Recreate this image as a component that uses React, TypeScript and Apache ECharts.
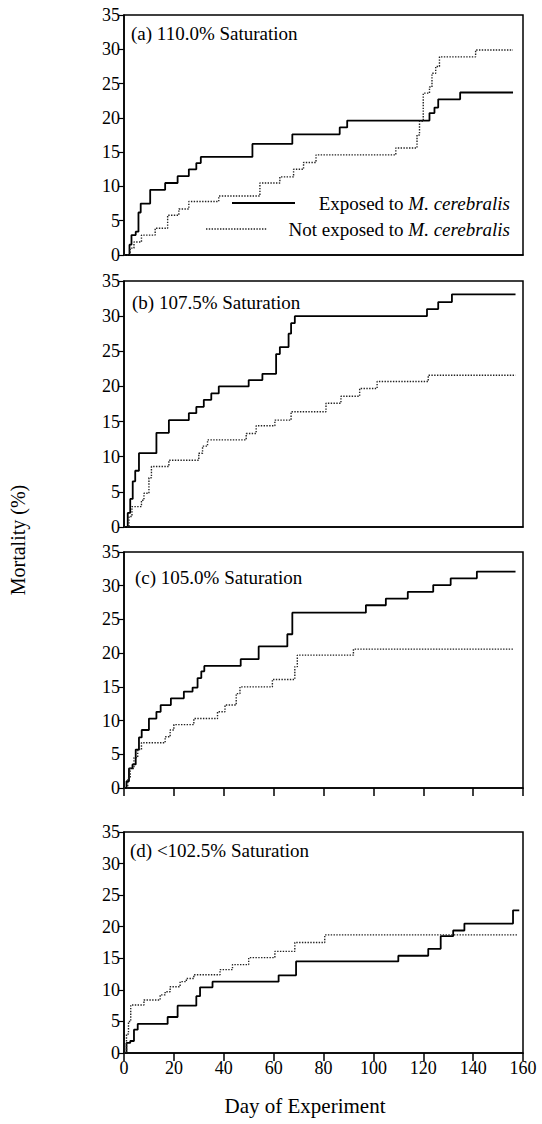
import React, { useEffect, useRef } from "react";
import * as echarts from "echarts";

// ---------- data (day, cumulative mortality %) ----------
const xTicks = [0, 20, 40, 60, 80, 100, 120, 140, 160];
const yTicks = [0, 5, 10, 15, 20, 25, 30, 35];

const panelTitles = [
  "(a) 110.0% Saturation",
  "(b) 107.5% Saturation",
  "(c) 105.0% Saturation",
  "(d) <102.5% Saturation",
];

const seriesNames = ["Exposed to M. cerebralis", "Not exposed to M. cerebralis"];

const aExposed: [number, number][] = [
  [0, 0], [1, 0], [2.2, 1.5], [3, 2.9], [4.7, 3.4], [5.8, 6.2], [6.7, 7.5], [10.5, 9.5],
  [16.5, 10.5], [21.5, 11.5], [26, 12.5], [29, 13.4], [30.8, 14.3], [51.5, 16.2],
  [67.5, 17.6], [86.5, 18.6], [89.5, 19.6], [122.5, 20.7], [124.5, 21.5], [126, 22.7],
  [134.8, 23.7], [156, 23.7],
];
const aNotExposed: [number, number][] = [
  [0, 0], [1.5, 0], [2.5, 1], [4, 1.9], [7, 2.9], [12.5, 3.9], [17.5, 5.8], [22, 6.7],
  [26, 7.8], [38, 8.6], [54.5, 10.5], [62.5, 11.4], [68, 12.5], [72, 13.5], [77, 14.6],
  [109, 15.6], [117.5, 17.5], [118.5, 19.5], [120, 23.6], [122.5, 24.5], [123.5, 26.5],
  [125, 27.5], [126.5, 28.9], [141, 29.9], [156, 29.9],
];
const bExposed: [number, number][] = [
  [0, 0], [0.5, 0], [1.5, 2], [2.5, 4], [3.5, 6.5], [4.5, 8], [6, 10.5], [13, 13.4],
  [18, 15.2], [26, 16.2], [29, 17.1], [32, 18.1], [35, 19], [38, 20], [50, 20.9],
  [55.5, 21.8], [61, 24.6], [62.5, 25.6], [66, 27.5], [67, 29], [68.5, 30], [121.5, 31],
  [126, 32], [131.5, 33.1], [157, 33.1],
];
const bNotExposed: [number, number][] = [
  [0, 0], [1.2, 0], [2, 1.5], [3.2, 2.9], [7, 3.8], [8, 4.8], [10, 7], [11, 8.6],
  [18, 9.5], [30, 10.5], [31.5, 11.5], [33.5, 12.4], [49, 13.3], [53, 14.4], [60.5, 15.2],
  [67, 16.4], [81, 17.6], [87, 18.6], [94.5, 19.7], [101.5, 20.7], [122, 21.6], [157, 21.6],
];
const cExposed: [number, number][] = [
  [0, 0], [0.3, 0], [1, 1], [2, 2.9], [3.4, 3.5], [4.7, 5.7], [6, 7.5], [7.1, 8.6],
  [10, 10.3], [13, 11.3], [14.7, 12.3], [18.8, 13.3], [24, 14.3], [27.5, 14.9],
  [29.5, 16.3], [31, 17.3], [32.2, 18.1], [46.8, 19.1], [54, 21], [65.5, 22.8],
  [67.5, 26], [97, 27.1], [105, 28.1], [113.8, 29.1], [124, 30.1], [131, 31.1],
  [141.5, 32.1], [157, 32.1],
];
const cNotExposed: [number, number][] = [
  [0, 0], [0.3, 0], [1.5, 1.5], [2.5, 2.9], [4, 4.5], [5.5, 5.7], [7, 6.7], [16.5, 7.6],
  [18.5, 8.6], [20, 9.4], [28, 10.3], [37.5, 11.3], [40.5, 12.3], [45, 14], [46.5, 15],
  [59.5, 16.1], [68.5, 18], [69.5, 19.7], [92, 20.6], [156, 20.6],
];
const dExposed: [number, number][] = [
  [0, 0], [0.5, 0], [1, 1.6], [2.5, 1.9], [4, 3.7], [5.5, 4.6], [17.5, 5.7], [21.5, 7.5],
  [29, 9], [30.5, 10.4], [35.5, 11.3], [62, 12.3], [69, 14.5], [110, 15.4], [122, 16.5],
  [127, 18.5], [132, 19.4], [136.5, 20.5], [156, 22.6], [158.5, 22.6],
];
const dNotExposed: [number, number][] = [
  [0, 0], [0.3, 0], [1, 3], [1.8, 5], [2.7, 7.6], [8, 8.4], [14.5, 9.2], [16.5, 9.7],
  [18.5, 10.5], [22.5, 11.3], [25, 11.8], [28, 12.4], [38.5, 13.2], [43.5, 14], [50, 15.1],
  [60.5, 16.1], [68.5, 17.5], [80.5, 18.7], [158, 18.7],
];

const panelData = [
  [aExposed, aNotExposed],
  [bExposed, bNotExposed],
  [cExposed, cNotExposed],
  [dExposed, dNotExposed],
];

// ---------- layout ----------
const FONT = "Liberation Serif";
const GRID_LEFT = 124;
const GRID_RIGHT = 19;
const panelTops = [15, 281, 552, 832];
const panelHeights = [240, 246, 236, 221];
const titlePos = [
  [131, 33],
  [132, 302],
  [135, 577],
  [130, 850],
];

export default function App() {
  const ref = useRef<HTMLDivElement>(null);

  useEffect(() => {
    if (!ref.current) return;
    const chart = echarts.init(ref.current, undefined, { renderer: "svg" });

    const grids = panelTops.map((top, i) => ({
      left: GRID_LEFT,
      right: GRID_RIGHT,
      top,
      height: panelHeights[i],
      show: true,
      borderColor: "#000",
      borderWidth: 1.5,
      backgroundColor: "transparent",
    }));

    const xAxes = panelTops.map((_, i) => ({
      type: "value",
      gridIndex: i,
      min: xTicks[0],
      max: xTicks[xTicks.length - 1],
      interval: 20,
      axisLine: { show: true, lineStyle: { color: "#000", width: 1.5 } },
      axisTick: { show: i >= 2, length: 8, lineStyle: { color: "#000", width: 1.5 } },
      axisLabel: {
        show: i === 3,
        color: "#000",
        fontFamily: FONT,
        fontSize: 18,
        margin: 6,
      },
      splitLine: { show: false },
    }));

    const yAxes = panelTops.map((_, i) => ({
      type: "value",
      gridIndex: i,
      min: yTicks[0],
      max: yTicks[yTicks.length - 1],
      interval: 5,
      axisLine: { show: true, lineStyle: { color: "#000", width: 1.5 } },
      axisTick: { show: true, length: 5, lineStyle: { color: "#000", width: 1.2 } },
      axisLabel: { color: "#000", fontFamily: FONT, fontSize: 18, margin: 4 },
      splitLine: { show: false },
    }));

    const series: any[] = [];
    panelData.forEach((pair, i) => {
      series.push({
        name: seriesNames[0],
        type: "line",
        xAxisIndex: i,
        yAxisIndex: i,
        step: "end",
        symbol: "none",
        data: pair[0],
        lineStyle: { color: "#000", width: 1.8, type: "solid" },
      });
      series.push({
        name: seriesNames[1],
        type: "line",
        xAxisIndex: i,
        yAxisIndex: i,
        step: "end",
        symbol: "none",
        data: pair[1],
        lineStyle: { color: "#222", width: 1.4, type: [1.4, 1.4] },
      });
    });

    const rich = {
      n: { fontFamily: FONT, fontSize: 19, color: "#000" },
      i: { fontFamily: FONT, fontSize: 19, fontStyle: "italic", color: "#000" },
    };

    const graphic: any[] = [
      ...panelTitles.map((t, i) => ({
        type: "text",
        x: titlePos[i][0],
        y: titlePos[i][1],
        style: {
          text: t,
          fontFamily: FONT,
          fontSize: 19,
          fill: "#000",
          align: "left",
          verticalAlign: "middle",
        },
      })),
      // legend (panel a)
      {
        type: "line",
        shape: { x1: 232, y1: 203, x2: 295, y2: 203 },
        style: { stroke: "#000", lineWidth: 1.8 },
      },
      {
        type: "line",
        shape: { x1: 206, y1: 229, x2: 267, y2: 229 },
        style: { stroke: "#222", lineWidth: 1.4, lineDash: [1.4, 1.4] },
      },
      {
        type: "text",
        x: 510,
        y: 203,
        style: {
          text: "{n|Exposed to }{i|M. cerebralis}",
          rich,
          align: "right",
          verticalAlign: "middle",
        },
      },
      {
        type: "text",
        x: 510,
        y: 229,
        style: {
          text: "{n|Not exposed to }{i|M. cerebralis}",
          rich,
          align: "right",
          verticalAlign: "middle",
        },
      },
      // axis names
      {
        type: "text",
        x: 18,
        y: 540,
        rotation: Math.PI / 2,
        style: {
          text: "Mortality (%)",
          fontFamily: FONT,
          fontSize: 20,
          fill: "#000",
          align: "center",
          verticalAlign: "middle",
        },
      },
      {
        type: "text",
        x: 305,
        y: 1106,
        style: {
          text: "Day of Experiment",
          fontFamily: FONT,
          fontSize: 21,
          fill: "#000",
          align: "center",
          verticalAlign: "middle",
        },
      },
    ];

    chart.setOption({
      animation: false,
      backgroundColor: "#fff",
      grid: grids,
      xAxis: xAxes,
      yAxis: yAxes,
      series,
      graphic,
    });

    return () => chart.dispose();
  }, []);

  return (
    <div
      ref={ref}
      style={{ position: "absolute", left: 0, top: 0, width: 542, height: 1124, background: "#fff" }}
    />
  );
}
